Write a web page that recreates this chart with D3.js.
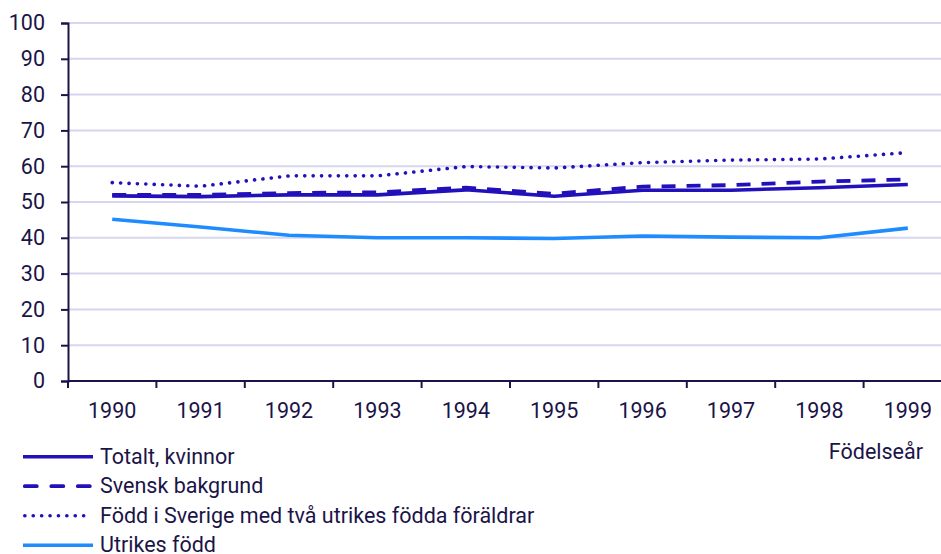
<!DOCTYPE html>
<html>
<head>
<meta charset="utf-8">
<script src="https://cdn.jsdelivr.net/npm/d3@7"></script>
<style>
    body { margin: 0; background: #fff; }
    svg { display: block; font-family: Roboto, "Noto Sans", sans-serif; }
</style>
</head>
<body>
<svg id="chart" width="941" height="554"></svg>
<script>
const years = ["1990", "1991", "1992", "1993", "1994", "1995", "1996", "1997", "1998", "1999"];
const totalt = [51.7, 51.5, 52.0, 52.0, 53.4, 51.6, 53.3, 53.3, 54.0, 54.9];
const svensk = [52.0, 52.0, 52.5, 52.7, 54.0, 52.3, 54.3, 54.7, 55.7, 56.3];
const foddSverige = [55.4, 54.4, 57.3, 57.3, 59.9, 59.5, 61.0, 61.7, 62.0, 63.8];
const utrikes = [45.2, 43.0, 40.7, 40.0, 40.0, 39.8, 40.5, 40.2, 40.0, 42.7];
const yTicks = [0, 10, 20, 30, 40, 50, 60, 70, 80, 90, 100];

const series = [
    { name: "Totalt, kvinnor", values: totalt, color: "#2211bb", dash: null, width: 3.6 },
    { name: "Svensk bakgrund", values: svensk, color: "#2211bb", dash: "14,11", width: 3.8 },
    { name: "Född i Sverige med två utrikes födda föräldrar", values: foddSverige, color: "#2211bb", dash: "0.1,8.3", width: 3.6, cap: "round" },
    { name: "Utrikes född", values: utrikes, color: "#1e8cff", dash: null, width: 3.6 }
];

const navy = "#1b1448";
const fontSize = 21.5;
const svg = d3.select("#chart");
const margin = { top: 23, left: 68 };
const plotH = 358;
const band = 88.4;

const x = d3.scaleBand().domain(years).range([margin.left, margin.left + band * years.length]);
const y = d3.scaleLinear().domain([0, 100]).range([margin.top + plotH, margin.top]);

// gridlines
svg.append("g")
    .selectAll("line")
    .data(yTicks.filter(d => d > 0))
    .join("line")
    .attr("x1", margin.left)
    .attr("x2", 941)
    .attr("y1", d => y(d))
    .attr("y2", d => y(d))
    .attr("stroke", "#d6d6ee")
    .attr("stroke-width", 2);

// y axis
const yAxis = svg.append("g")
    .attr("transform", `translate(${margin.left},0)`)
    .call(d3.axisLeft(y).tickValues(yTicks).tickSize(7).tickPadding(16));
yAxis.select(".domain").attr("stroke", navy).attr("stroke-width", 2);
yAxis.selectAll(".tick line").attr("stroke", navy).attr("stroke-width", 2);
yAxis.selectAll(".tick text").attr("fill", navy).attr("font-size", fontSize).attr("font-family", "Roboto");

// x axis
const xAxis = svg.append("g")
    .attr("transform", `translate(0,${y(0)})`)
    .call(d3.axisBottom(x).tickSize(0).tickPadding(22));
xAxis.select(".domain").attr("stroke", navy).attr("stroke-width", 2).attr("d", `M${margin.left},0H941`);
xAxis.selectAll(".tick text").attr("fill", navy).attr("font-size", fontSize).attr("font-family", "Roboto");
svg.append("g")
    .selectAll("line")
    .data(years)
    .join("line")
    .attr("x1", d => x(d))
    .attr("x2", d => x(d))
    .attr("y1", y(0))
    .attr("y2", y(0) + 7)
    .attr("stroke", navy)
    .attr("stroke-width", 2);

svg.append("text")
    .attr("x", 923)
    .attr("y", 459)
    .attr("text-anchor", "end")
    .attr("fill", navy)
    .attr("font-size", fontSize)
    .text("Födelseår");

// lines
const line = d3.line()
    .x((d, i) => x(years[i]) + x.bandwidth() / 2)
    .y(d => y(d));

svg.append("g")
    .selectAll("path")
    .data(series)
    .join("path")
    .attr("d", d => line(d.values))
    .attr("fill", "none")
    .attr("stroke", d => d.color)
    .attr("stroke-width", d => d.width)
    .attr("stroke-dasharray", d => d.dash)
    .attr("stroke-linecap", d => d.cap || "butt")
    .attr("stroke-linejoin", "round");

// legend
const legend = svg.append("g")
    .selectAll("g")
    .data(series)
    .join("g")
    .attr("transform", (d, i) => `translate(23,${456.7 + i * 29.5})`);
legend.append("line")
    .attr("x1", d => d.dash ? 1.8 : 0)
    .attr("x2", d => d.dash ? 68.5 : 70)
    .attr("stroke", d => d.color)
    .attr("stroke-width", d => d.width)
    .attr("stroke-dasharray", d => d.dash ? (d.cap ? "0.1,8.3" : "12,14.5") : null)
    .attr("stroke-linecap", d => d.dash ? "round" : "butt");
legend.append("text")
    .attr("x", 77)
    .attr("y", 6.8)
    .attr("fill", navy)
    .attr("font-size", fontSize)
    .text(d => d.name);
</script>
</body>
</html>
